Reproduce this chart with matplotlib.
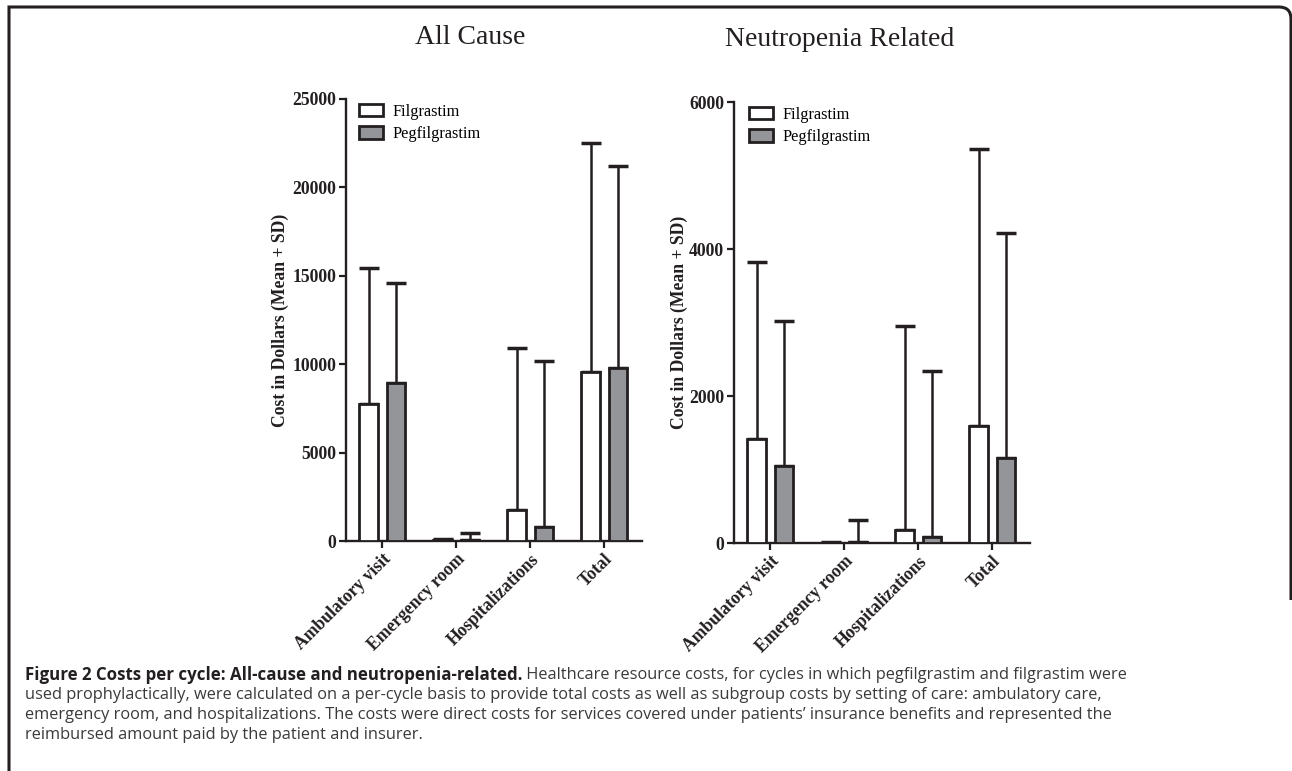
import numpy as np
import matplotlib.pyplot as plt
from matplotlib.path import Path
from matplotlib.patches import PathPatch

plt.rcParams['font.family'] = ['Liberation Serif', 'DejaVu Serif']

# Categories and values (mean and SD)
categories = ["Ambulatory visit", "Emergency room", "Hospitalizations", "Total"]
series = ["Filgrastim", "Pegfilgrastim"]

all_filg_mean = [7750, 40, 1750, 9550]
all_filg_sd = [7670, 70, 9150, 12950]
all_peg_mean = [8930, 50, 790, 9770]
all_peg_sd = [5650, 400, 9380, 11430]

neu_filg_mean = [1415, 5, 177, 1592]
neu_filg_sd = [2408, 5, 2775, 3768]
neu_peg_mean = [1048, 15, 82, 1156]
neu_peg_sd = [1972, 298, 2258, 3062]

panel_titles = ["All Cause", "Neutropenia Related"]
y_ticks_all = [0, 5000, 10000, 15000, 20000, 25000]
y_ticks_neu = [0, 2000, 4000, 6000]

W, H = 1292, 771
dark = '#231f20'
grey = '#939598'

fig = plt.figure(figsize=(W / 100, H / 100), dpi=100)


def draw_panel(rect, filg_mean, filg_sd, peg_mean, peg_sd, yticks, leg_anchor, label_x):
    ax = fig.add_axes(rect)
    x = np.arange(len(categories))
    off, bw = 0.185, 0.25
    b1 = ax.bar(x - off, filg_mean, bw, color='white', edgecolor=dark, linewidth=2.0, zorder=3)
    b2 = ax.bar(x + off, peg_mean, bw, color=grey, edgecolor=dark, linewidth=2.0, zorder=3)
    ax.errorbar(x - off, filg_mean, yerr=[np.zeros(4), filg_sd], fmt='none', ecolor=dark,
                elinewidth=1.8, capsize=7.5, capthick=2.5, zorder=2)
    ax.errorbar(x + off, peg_mean, yerr=[np.zeros(4), peg_sd], fmt='none', ecolor=dark,
                elinewidth=1.8, capsize=7.5, capthick=2.5, zorder=2)
    ax.set_xlim(-0.49, 3.51)
    ax.set_ylim(0, yticks[-1])
    ax.set_yticks(yticks)
    ax.set_xticks(x)
    ax.set_xticklabels(categories, rotation=45, ha='right', rotation_mode='anchor',
                       fontweight='bold', fontsize=12.7)
    for lab in ax.get_yticklabels():
        lab.set_fontweight('bold')
    ax.tick_params(direction='out', length=5, width=1.6, labelsize=12.7, color=dark,
                   labelcolor=dark, pad=2)
    for s in ['top', 'right']:
        ax.spines[s].set_visible(False)
    for s in ['left', 'bottom']:
        ax.spines[s].set_linewidth(1.7)
        ax.spines[s].set_color(dark)
    ax.set_ylabel("Cost in Dollars (Mean + SD)", fontweight='bold', fontsize=12.7, color=dark)
    ax.yaxis.set_label_coords(label_x, 0.5)
    ax.legend([b1, b2], series, loc='upper left', bbox_to_anchor=leg_anchor, frameon=False,
              handlelength=1.45, handleheight=0.8, handletextpad=0.6, labelspacing=0.4,
              fontsize=11.8, borderaxespad=0, borderpad=0)
    return ax


draw_panel([346 / W, 1 - 541 / H, 296 / W, 442 / H], all_filg_mean, all_filg_sd,
           all_peg_mean, all_peg_sd, y_ticks_all, (0.045, 0.989), -0.193)
draw_panel([734 / W, 1 - 543 / H, 296 / W, 441 / H], neu_filg_mean, neu_filg_sd,
           neu_peg_mean, neu_peg_sd, y_ticks_neu, (0.052, 0.989), -0.155)

fig.text(470 / W, 1 - 38 / H, panel_titles[0], ha='center', va='center', fontsize=20, color=dark)
fig.text(840 / W, 1 - 40 / H, panel_titles[1], ha='center', va='center', fontsize=20, color=dark)

# Frame with rounded top-right corner
r = 12
pts = [(9, 800), (9, 7), (1291 - r, 7), (1291, 7), (1291, 7 + r), (1291, 600)]
codes = [Path.MOVETO, Path.LINETO, Path.LINETO, Path.CURVE3, Path.CURVE3, Path.LINETO]
verts = [(px / W, 1 - py / H) for px, py in pts]
fig.add_artist(PathPatch(Path(verts, codes), transform=fig.transFigure, fill=False,
                         edgecolor=dark, linewidth=2.2))

# Caption
cap_font = ['Open Sans', 'DejaVu Sans']
bold_part = "Figure 2 Costs per cycle: All-cause and neutropenia-related."
lines = [
    " Healthcare resource costs, for cycles in which pegfilgrastim and filgrastim were",
    "used prophylactically, were calculated on a per-cycle basis to provide total costs as well as subgroup costs by setting of care: ambulatory care,",
    "emergency room, and hospitalizations. The costs were direct costs for services covered under patients\u2019 insurance benefits and represented the",
    "reimbursed amount paid by the patient and insurer.",
]
x0 = 25 / W
t = fig.text(x0, 1 - 675 / H, bold_part, ha='left', va='center', fontsize=12.2, fontweight='bold',
             family=cap_font, color=dark)
fig.canvas.draw()
bb = t.get_window_extent().transformed(fig.transFigure.inverted())
fig.text(bb.x1, 1 - 675 / H, lines[0], ha='left', va='center', fontsize=11.75,
         family=cap_font, color='#3a3a3a')
for i, ln in enumerate(lines[1:]):
    fig.text(x0, 1 - (695 + 20 * i) / H, ln, ha='left', va='center', fontsize=11.75,
             family=cap_font, color='#3a3a3a')

fig.savefig('out.png', dpi=100)
